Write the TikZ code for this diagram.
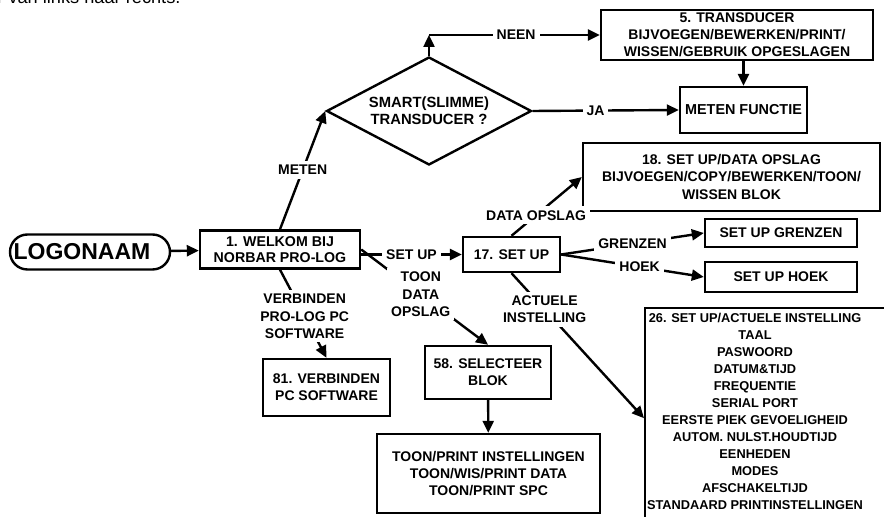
\documentclass[tikz,border=0pt]{standalone}
\usepackage{fontspec}
\setmainfont{Liberation Sans}
\usetikzlibrary{arrows.meta,shapes.geometric}

\begin{document}
\begin{tikzpicture}[
  x=0.5pt, y=-0.5pt,
  every node/.style={font=\fontsize{7}{8.6}\selectfont\bfseries},
  menu_box/.style={draw, line width=1.2pt, align=center, inner sep=0pt},
  link_label/.style={fill=white, inner sep=2pt, align=center},
  arr/.style={line width=1.2pt, -{Triangle[length=6pt,width=5.5pt]}},
]
\clip (0,0) rectangle (884,517);
% cut-off caption line at the top
\node[anchor=base west, inner sep=0pt, font=\fontsize{9.1}{10}\selectfont] (caption) at (-3,3.5) {r van links naar rechts.};
% boxes
\node[menu_box, rounded corners=8.75pt, minimum width=80pt, minimum height=17.5pt, font=\fontsize{11.5}{12}\selectfont\bfseries] (logo) at (90,252) {LOGONAAM\hspace*{8pt}};
\node[menu_box, minimum width=80pt, minimum height=19pt, font=\fontsize{7.1}{7.8}\selectfont\bfseries] (welkom) at (280,249.5) {1. WELKOM BIJ\\NORBAR PRO-LOG};
\node[menu_box, shape=diamond, aspect=1.9, minimum width=102.5pt, minimum height=54pt, font=\fontsize{7.4}{8.4}\selectfont\bfseries] (smart) at (429,111) {SMART(SLIMME)\\TRANSDUCER ?};
\node[menu_box, minimum width=136pt, minimum height=25pt] (transducer) at (737,35) {5. TRANSDUCER\\BIJVOEGEN/BEWERKEN/PRINT/\\WISSEN/GEBRUIK OPGESLAGEN};
\node[menu_box, minimum width=63.5pt, minimum height=23pt, font=\fontsize{7.2}{8.5}\selectfont\bfseries] (meten) at (743.5,110) {METEN FUNCTIE};
\node[menu_box, minimum width=148.5pt, minimum height=34pt] (opslag) at (731.5,177) {18. SET UP/DATA OPSLAG\\BIJVOEGEN/COPY/BEWERKEN/TOON/\\WISSEN BLOK};
\node[menu_box, minimum width=48.5pt, minimum height=17.5pt] (setup) at (511.5,254.5) {17. SET UP};
\node[menu_box, minimum width=76pt, minimum height=14pt] (grenzen) at (781,233) {SET UP GRENZEN};
\node[menu_box, minimum width=76pt, minimum height=15pt] (hoek) at (781,277) {SET UP HOEK};
\node[menu_box, anchor=north west, minimum width=132pt, minimum height=110pt] (actueel) at (644,307) {};
\node[anchor=north, inner sep=0pt, align=center, font=\fontsize{6.4}{8.5}\selectfont\bfseries] (actueel_txt) at (755,313) {26. SET UP/ACTUELE INSTELLING\\TAAL\\PASWOORD\\DATUM\&TIJD\\FREQUENTIE\\SERIAL PORT\\EERSTE PIEK GEVOELIGHEID\\AUTOM. NULST.HOUDTIJD\\EENHEDEN\\MODES\\AFSCHAKELTIJD\\STANDAARD PRINTINSTELLINGEN};
\node[menu_box, minimum width=63pt, minimum height=26.5pt] (selecteer) at (488,372.5) {58. SELECTEER\\BLOK};
\node[menu_box, minimum width=111.5pt, minimum height=39.5pt] (toon) at (488.5,473.5) {TOON/PRINT INSTELLINGEN\\TOON/WIS/PRINT DATA\\TOON/PRINT SPC};
\node[menu_box, minimum width=63.5pt, minimum height=28.5pt] (verbinden) at (326.5,387.5) {81. VERBINDEN\\PC SOFTWARE};
\coordinate (neen_corner) at (429,35);
% connectors
\draw[arr] (logo) -- (welkom);
\draw[arr] (welkom.north) -- node[link_label] {METEN} (smart.west);
\draw[arr] (smart.north) -- (neen_corner);
\draw[arr] (neen_corner) -- node[link_label, pos=0.51] {NEEN} (transducer.west);
\draw[arr] (smart.east) -- node[link_label, pos=0.43] {JA} (meten.west);
\draw[arr] (transducer.south -| meten.north) -- (meten.north);
\draw[arr] (setup.west -| welkom.east) -- node[link_label] {SET UP} (setup.west);
\draw[arr] (welkom.east) -- node[link_label, pos=0.47] {TOON\\DATA\\OPSLAG} (selecteer.north);
\draw[arr] (welkom.south) -- node[link_label, pos=0.53] {VERBINDEN\\PRO-LOG PC\\SOFTWARE} (verbinden.north);
\draw[arr] (selecteer) -- (toon);
\draw[arr] (setup.north) -- node[link_label, pos=0.35] {DATA OPSLAG} (opslag.west);
\draw[arr] (setup.east) -- node[link_label, pos=0.5] {GRENZEN} (grenzen.west);
\draw[arr] (setup.east) -- node[link_label, pos=0.55] {HOEK} (hoek.west);
\draw[arr] (setup.south) -- node[link_label, pos=0.25] {ACTUELE\\INSTELLING} (actueel.west);
\end{tikzpicture}
\end{document}
